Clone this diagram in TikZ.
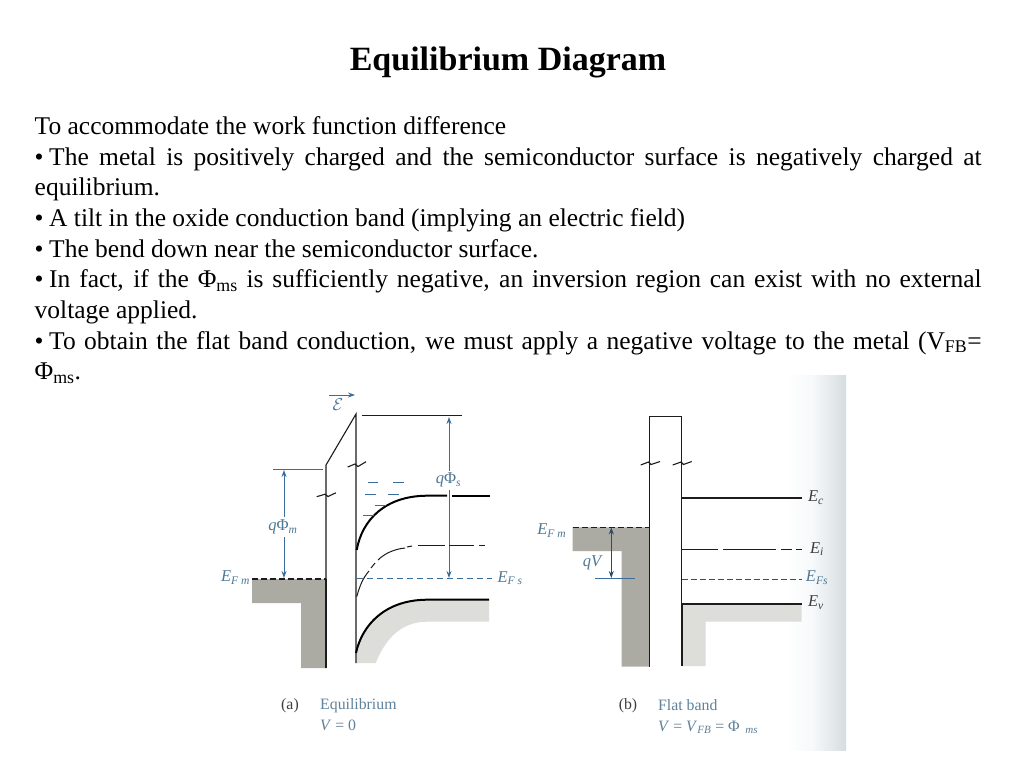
\documentclass[tikz,border=0pt]{standalone}
\usepackage{fontspec}
\setmainfont{Liberation Serif}
\usetikzlibrary{arrows.meta}
\definecolor{figblue}{HTML}{3A6C9C}
\definecolor{capblue}{HTML}{5F8199}
\definecolor{labblue}{HTML}{4F7895}
\definecolor{inkk}{HTML}{1C1C1C}
\definecolor{metalfill}{HTML}{ABABA3}
\definecolor{semifill}{HTML}{DDDDDA}
\definecolor{edgeshade}{HTML}{D6DDDF}
\definecolor{edgepale}{HTML}{F7F9FA}
\tikzset{
  band/.style={draw=inkk,line width=1.1pt},
  thickband/.style={draw=black,line width=2pt},
  bluearrow/.style={draw=figblue,line width=1pt,-{Stealth[length=7pt,width=5pt]}},
  blueline/.style={draw=figblue,line width=1pt},
  bluedash/.style={draw=figblue,line width=1pt,dash pattern=on 6pt off 4pt},
  inkdash/.style={draw=inkk,line width=1.1pt,dash pattern=on 6pt off 3pt},
  midgap/.style={draw=inkk,line width=1pt},
  lab/.style={text=labblue,font=\fontsize{16.5}{17}\selectfont,inner sep=0pt},
  labk/.style={text=inkk!85,font=\fontsize{16.5}{17}\selectfont,inner sep=0pt},
  captxt/.style={text=capblue,font=\fontsize{15.8}{18}\selectfont,inner sep=0pt,anchor=west},
  capk/.style={text=inkk!85,font=\fontsize{15.8}{18}\selectfont,inner sep=0pt},
  semidark/.style={fill=metalfill,draw=none},
  semilight/.style={fill=semifill,draw=none}
}
\newcommand{\ssub}[1]{\textsubscript{#1}}
\newcommand{\blt}{\makebox[14.5pt][l]{•}}
\begin{document}
\begin{tikzpicture}[x=1pt,y=-1pt]
\useasboundingbox (0,0) rectangle (1024,768);
\fill[white] (0,0) rectangle (1024,768);
% scan edge shading
\shade[left color=white,right color=edgepale] (785,375) rectangle (812,750);
\shade[left color=edgepale,right color=edgeshade] (812,375) rectangle (846,750);

% title and body
\node[inner sep=0pt] (title) at (508,62.5) {\fontsize{34}{40}\bfseries\selectfont Equilibrium Diagram};
\node[anchor=north west,inner sep=0pt,text width=947pt,align=justify,
      font=\fontsize{25.5}{30.65}\selectfont] (body) at (34.5,116.5) {%
To accommodate the work function difference\par
\blt The metal is positively charged and the semiconductor surface is negatively charged at\linebreak equilibrium.\par
\blt A tilt in the oxide conduction band (implying an electric field)\par
\blt The bend down near the semiconductor surface.\par
\blt In fact, if the Φ\ssub{ms} is sufficiently negative, an inversion region can exist with no external\linebreak voltage applied.\par
\blt To obtain the flat band conduction, we must apply a negative voltage to the metal (V\ssub{FB}=\linebreak Φ\ssub{ms}.\par};

% ---------- (a) ----------
\fill[semidark] (252,579) -- (326,579) -- (326,668) -- (301,668) -- (301,603) -- (252,603) -- cycle;
\fill[semilight] (356.5,653) .. controls (362,625) and (385,600) .. (426.7,599.7) -- (489,599.7) -- (489,621.7) -- (426.7,621.7)
   .. controls (400,622) and (385,640) .. (375.7,663) -- (356.5,663) -- cycle;
\draw[band] (326,668) -- (326,465) -- (356,414) -- (356,663);
\draw[band] (316.7,496.7) -- (325,494.2) -- (328,496.5) -- (336,492.8);
\draw[band] (347.7,467) -- (355,464) -- (358,466.5) -- (366,461.7);
\draw[inkdash] (252,579) -- (326,579);
\draw[line width=1.5pt,inkk] (326,579) -- (326,668);
\coordinate (atopL) at (361.7,415.3); \coordinate (atopR) at (461.7,415.3);
\draw[band] (atopL) -- (atopR);
\coordinate (amL) at (273,469); \coordinate (amR) at (323,469);
\draw[blueline] (amL) -- (amR);
% q Phi m
\node[lab] (qpm) at (283,527) {\textit{q}Φ\textsubscript{\textit{m}}};
\coordinate (qpmT) at (284,470); \coordinate (qpmB) at (284,578);
\draw[bluearrow] (qpm.north -| qpmT) ++(0,-3) -- (qpmT);
\draw[bluearrow] (qpm.south -| qpmB) ++(0,3) -- (qpmB);
% q Phi s
\node[lab] (qps) at (448.5,480) {\textit{q}Φ\textsubscript{\textit{s}}};
\coordinate (qpsT) at (449,417); \coordinate (qpsB) at (449,578);
\draw[bluearrow] (qps.north -| qpsT) ++(0,-2) -- (qpsT);
\draw[bluearrow] (qps.south -| qpsB) ++(0,3) -- (qpsB);
% bands
\draw[thickband] (356.7,550) .. controls (362,520) and (385,496) .. (426.7,495.7) -- (447,495.7);
\draw[thickband] (452,495.7) -- (490,495.7);
\draw[midgap] (356.7,596.7) .. controls (360,585) and (363,578) .. (369,571);
\draw[midgap] (371,568) -- (375,563);
\draw[midgap] (378,560) .. controls (385,553) and (395,549) .. (405,548);
\draw[midgap] (407,547) -- (412,546);
\draw[midgap] (418,545.7) -- (445,545.7);
\draw[midgap] (449,545.7) -- (474,545.7);
\draw[midgap] (479,545.7) -- (485,545.7);
\draw[bluedash] (356.7,578) -- (491.7,578);
\draw[thickband] (356,653) .. controls (362,625) and (385,600) .. (426.7,599.7) -- (489,599.7);
\foreach \xa/\xb/\yy in {367.7/378.3/482.7,393.3/404/482.7,365/375.7/494.3,387.7/399.3/494.3,375/385.7/505,363.3/374/515.3}
  \draw[blueline] (\xa,\yy) -- (\xb,\yy);
% field
\coordinate (efA) at (329.3,395); \coordinate (efB) at (355,395);
\draw[bluearrow] (efA) -- (efB);
\node[lab] (efl) at (338,404.5) {$\mathcal{E}$};
% labels
\node[lab] (efma) at (235.5,577.5) {\textit{E}\textsubscript{\textit{F m}}};
\node[lab] (efsa) at (510,578) {\textit{E}\textsubscript{\textit{F s}}};
\node[capk] (capa) at (290,706) {(a)};
\node[captxt] (eqt) at (320,706) {Equilibrium};
\node[captxt] (eqv) at (320,725.5) {\textit{V} = 0};

% ---------- (b) ----------
\fill[semidark] (572.7,527.3) -- (649.3,527.3) -- (649.3,666.7) -- (621.7,666.7) -- (621.7,551) -- (572.7,551) -- cycle;
\fill[semilight] (681.7,603.7) -- (801.7,603.7) -- (801.7,621.7) -- (705.7,621.7) -- (705.7,666) -- (681.7,666) -- cycle;
\draw[band] (649.3,527) -- (649.3,416.3) -- (681.7,416.3) -- (681.7,604);
\draw[band] (640.7,465) -- (648.5,462) -- (651,464.5) -- (660,461.5);
\draw[band] (672.7,465) -- (681,462) -- (683.5,464.5) -- (691.7,461.5);
\draw[line width=1.6pt,inkk] (649.3,527) -- (649.3,666.7);
\draw[line width=1.6pt,inkk] (681.7,603.7) -- (681.7,666);
\draw[inkdash] (572.7,527.3) -- (649.3,527.3);
\draw[draw=inkk,line width=1.4pt] (681.7,498) -- (801.7,498);
\draw[midgap] (681.7,549) -- (718,549);
\draw[midgap] (723,549) -- (776,549);
\draw[midgap] (781,549) -- (792,549);
\draw[midgap] (796,549) -- (802,549);
\draw[draw=inkk!80,line width=0.8pt,dash pattern=on 6pt off 3pt] (681.7,579) -- (801.7,579);
\draw[draw=inkk,line width=1.8pt] (681.7,603.7) -- (801.7,603.7);
% qV
\coordinate (qvT) at (611.3,527.5); \coordinate (qvB) at (611.3,578);
\draw[figblue!70!black,line width=1pt,{Stealth[length=7pt,width=5pt]}-{Stealth[length=7pt,width=5pt]}] (qvT) -- (qvB);
\coordinate (qvL) at (595,578.3); \coordinate (qvR) at (635,578.3);
\draw[blueline] (qvL) -- (qvR);
\node[lab] (qvl) at (592.7,562.5) {\textit{qV}};
\node[lab] (efmb) at (551.7,530.5) {\textit{E}\textsubscript{\textit{F m}}};
\node[labk] (ec) at (816,497.5) {\textit{E}\textsubscript{\textit{c}}};
\node[labk] (ei) at (817,549) {\textit{E}\textsubscript{\textit{i}}};
\node[lab] (efsb) at (817,577.5) {\textit{E}\textsubscript{\textit{Fs}}};
\node[labk] (ev) at (816,602.5) {\textit{E}\textsubscript{\textit{v}}};
\node[capk] (capb) at (628,706) {(b)};
\node[captxt] (fbt) at (658,705.5) {Flat band};
\node[captxt] (fbv) at (658,727) {\textit{V} = \textit{V}\textsubscript{\textit{FB}} = Φ\textsubscript{\,\,\,\textit{ms}}};
\end{tikzpicture}
\end{document}
